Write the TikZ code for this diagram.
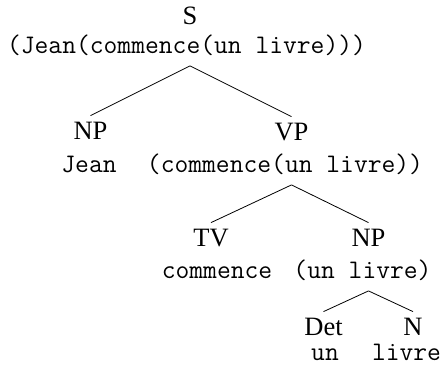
\documentclass[tikz,border=0pt]{standalone}
\usepackage{fontspec}
\setmainfont{Liberation Serif}
\begin{document}
\begin{tikzpicture}[x=10pt, y=-10pt, line width=0.8pt,
    cat/.style={font=\fontsize{26.5}{30}\selectfont, anchor=base, inner xsep=0pt, inner ysep=6pt, text height=17pt, text depth=0pt},
    term/.style={font=\fontsize{26.8}{30}\selectfont\ttfamily, anchor=base, inner xsep=0pt, inner ysep=12.5pt, text depth=0pt}]
    \useasboundingbox (0, 0) rectangle (44.6, 37);

    \node [cat] (s) at (19, 2.4) {S};
    \node [term] (semS) at (18.65, 5.3) {(Jean(commence(un livre)))};

    \node [cat] (np1) at (9.05, 13.9) {NP};
    \node [term] (jean) at (8.9, 17.2) {Jean};
    \node [cat] (vp) at (29.15, 14) {VP};
    \node [term] (semVP) at (28.5, 17.2) {(commence(un livre))};

    \node [cat] (tv) at (21.1, 24.6) {TV};
    \node [term] (commence) at (21.7, 27.8) {commence};
    \node [cat] (np2) at (36.85, 24.6) {NP};
    \node [term] (semNP) at (36.25, 27.8) {(un livre)};

    \node [cat] (det) at (32.35, 33.5) {Det};
    \node [term] (un) at (32.5, 36) {un};
    \node [cat] (n) at (41.3, 33.5) {N};
    \node [term] (livre) at (40.65, 36) {livre};

    \draw (s |- semS.south) -- (np1.north);
    \draw (s |- semS.south) -- (vp.north);
    \draw (vp |- semVP.south) -- (tv.north);
    \draw (vp |- semVP.south) -- (np2.north);
    \draw (np2 |- semNP.south) -- (det.north);
    \draw (np2 |- semNP.south) -- (n.north);
  \end{tikzpicture}
\end{document}
